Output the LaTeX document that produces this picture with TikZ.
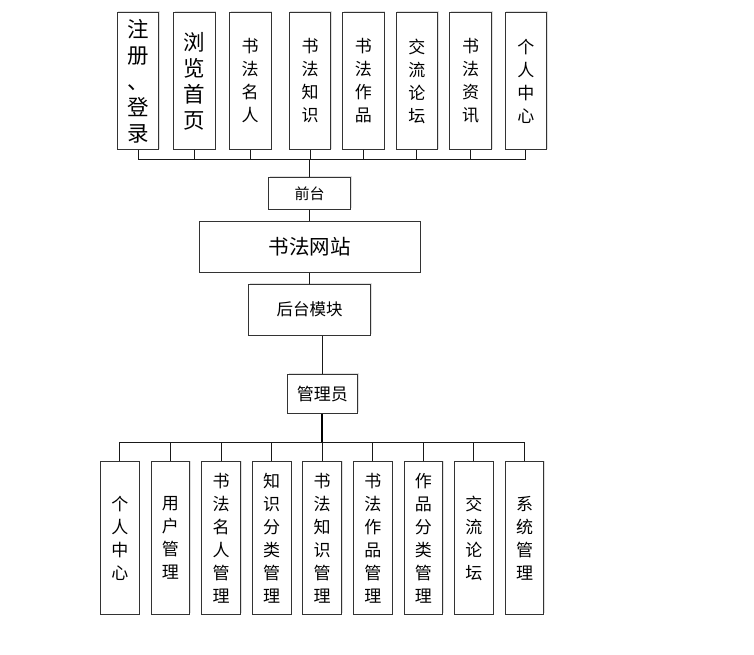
\documentclass[tikz,border=0pt]{standalone}
\usepackage{fontspec}
\newfontfamily\cjk{Noto Sans CJK SC}
\usetikzlibrary{shadows,calc}
\tikzset{
  boxbase/.style={draw=black!80, line width=0.9pt, fill=white, inner sep=0pt,
    drop shadow={shadow xshift=1.2pt, shadow yshift=1.2pt, opacity=0.25}},
  topbig/.style={boxbase, minimum width=41.7pt, minimum height=137.7pt, align=center,
    font=\cjk\fontsize{21.5}{26}\selectfont},
  topsmall/.style={boxbase, minimum width=41.7pt, minimum height=137.7pt, align=center,
    font=\cjk\fontsize{17}{23}\selectfont},
  botbox/.style={boxbase, minimum width=38.6pt, minimum height=152.6pt, align=center,
    font=\cjk\fontsize{17}{23}\selectfont},
  midbox/.style={boxbase, align=center},
  conn/.style={draw=black!90, line width=0.8pt},
}
\begin{document}
\begin{tikzpicture}[x=1pt,y=-1pt]
\useasboundingbox[fill=white] (0,0) rectangle (754,654);
% top row
\node[topbig] (t1) at (138,81) {注\\册\\、\\登\\录};
\node[topbig] (t2) at (194.2,81) {浏\\览\\首\\页};
\node[topsmall] (t3) at (250.2,81) {书\\法\\名\\人};
\node[topsmall] (t4) at (310,81) {书\\法\\知\\识};
\node[topsmall] (t5) at (363.3,81) {书\\法\\作\\品};
\node[topsmall] (t6) at (416.8,81) {交\\流\\论\\坛};
\node[topsmall] (t7) at (470.5,81) {书\\法\\资\\讯};
\node[topsmall] (t8) at (525.8,81) {个\\人\\中\\心};
% middle
\node[midbox, minimum width=82.4pt, minimum height=32pt, font=\cjk\fontsize{15}{18}\selectfont] (qt) at (309.5,193.3) {前台};
\node[midbox, minimum width=221pt, minimum height=50.6pt, font=\cjk\fontsize{20.5}{24}\selectfont] (wz) at (309.5,247) {书法网站};
\node[midbox, minimum width=122.4pt, minimum height=50.7pt, font=\cjk\fontsize{16.5}{20}\selectfont] (ht) at (309.5,309.7) {后台模块};
\node[midbox, minimum width=70pt, minimum height=39pt, font=\cjk\fontsize{17}{20}\selectfont] (gly) at (322.3,393.8) {管理员};
% bottom row
\node[botbox] (b1) at (119.8,538) {个\\人\\中\\心};
\node[botbox] (b2) at (170.3,538) {用\\户\\管\\理};
\node[botbox] (b3) at (221,538) {书\\法\\名\\人\\管\\理};
\node[botbox] (b4) at (271.7,538) {知\\识\\分\\类\\管\\理};
\node[botbox] (b5) at (322.2,538) {书\\法\\知\\识\\管\\理};
\node[botbox] (b6) at (372.8,538) {书\\法\\作\\品\\管\\理};
\node[botbox] (b7) at (423.3,538) {作\\品\\分\\类\\管\\理};
\node[botbox] (b8) at (473.8,538) {交\\流\\论\\坛};
\node[botbox] (b9) at (524.5,538) {系\\统\\管\\理};
% connectors top
\coordinate (topbus) at (309.5,159.3);
\foreach \n in {t1,t2,t3,t4,t5,t6,t7,t8}{
  \draw[conn] (\n.south) |- (topbus);
}
\draw[conn] (topbus) -- (qt.north);
\draw[conn] (qt.south) -- (wz.north -| qt.south);
\draw[conn] (wz.south -| ht.north) -- (ht.north);
\draw[conn] (ht.south -| gly.north) -- (gly.north);
% connectors bottom
\coordinate (botbus) at (322.3,442.7);
\draw[draw=black, line width=1.8pt] (gly.south) -- (botbus);
\foreach \n in {b1,b2,b3,b4,b5,b6,b7,b8,b9}{
  \draw[conn] (\n.north) |- (botbus);
}
\end{tikzpicture}
\end{document}
